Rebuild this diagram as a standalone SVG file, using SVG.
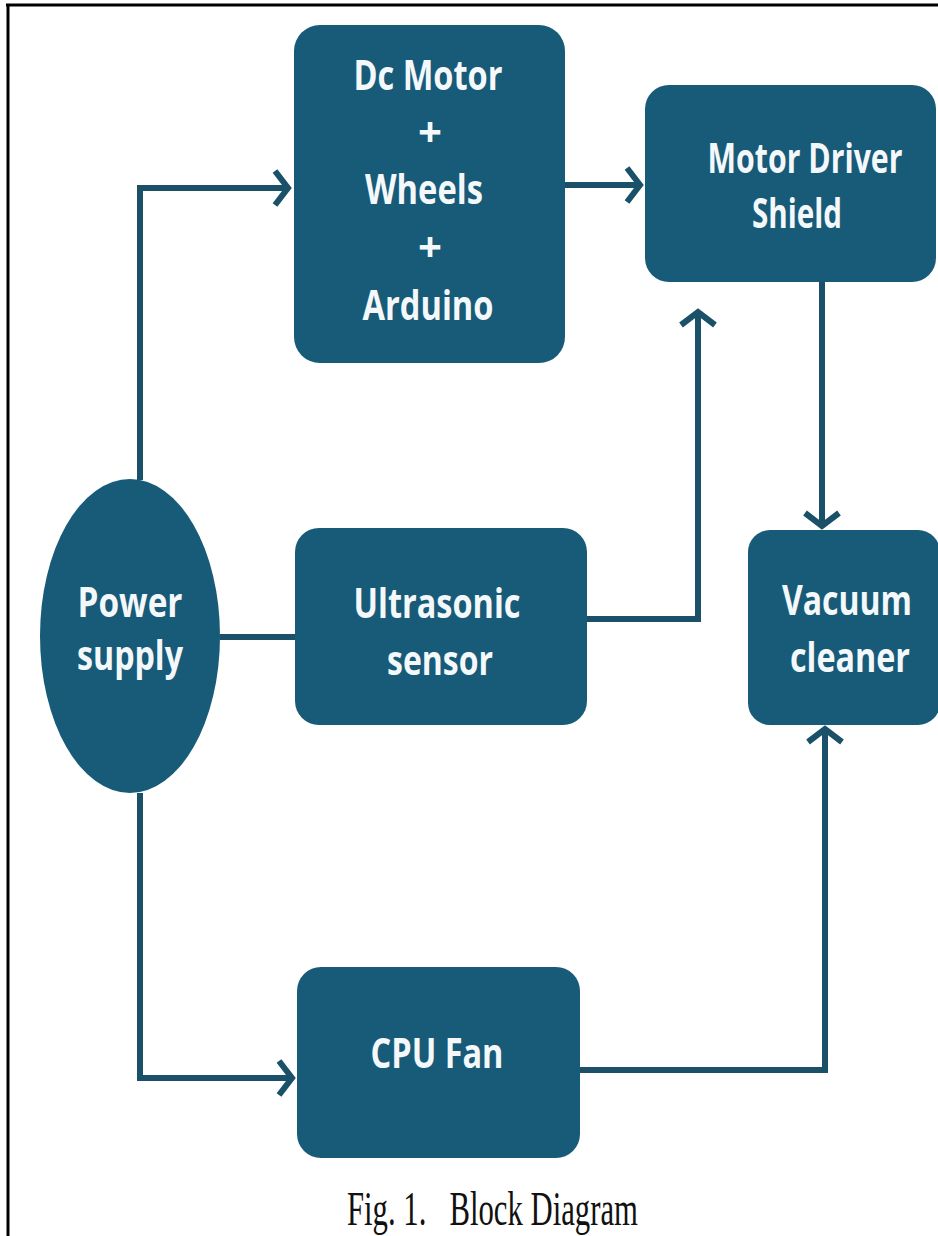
<svg xmlns="http://www.w3.org/2000/svg" width="938" height="1236" viewBox="0 0 938 1236">
<style>
.box{fill:#175b79;}
.lbl{font-family:"Open Sans","Noto Sans","Liberation Sans",sans-serif;font-weight:700;font-size:42px;fill:#f4f8fa;text-anchor:middle;}
.wire{fill:none;stroke:#1a5168;stroke-width:6;stroke-linejoin:miter;}
.cap{font-family:"Liberation Serif","Times New Roman",serif;font-size:48px;fill:#111;}
</style>
<defs>
<marker id="arr" markerUnits="userSpaceOnUse" markerWidth="40" markerHeight="40" viewBox="-20 -20 40 40" refX="0" refY="0" orient="auto">
<path d="M -13 -17 L 0 0 L -13 17" fill="none" stroke="#1a5168" stroke-width="6" stroke-linejoin="miter"/>
</marker>
</defs>
<rect width="938" height="1236" fill="#ffffff"/>
<g id="frame">
<line x1="6" y1="5" x2="938" y2="5" stroke="#000" stroke-width="3"/>
<line x1="8" y1="4" x2="8" y2="1236" stroke="#000" stroke-width="3"/>
</g>
<g id="connectors">
<polyline class="wire" points="140,480 140,188 288,188" marker-end="url(#arr)"/>
<line class="wire" x1="565" y1="185" x2="640" y2="185" marker-end="url(#arr)"/>
<line class="wire" x1="220" y1="637" x2="295" y2="637"/>
<polyline class="wire" points="587,619 698,619 698,312" marker-end="url(#arr)"/>
<line class="wire" x1="822" y1="282" x2="822" y2="526" marker-end="url(#arr)"/>
<polyline class="wire" points="580,1070 825,1070 825,729" marker-end="url(#arr)"/>
<polyline class="wire" points="140,793 140,1078 292,1078" marker-end="url(#arr)"/>
</g>
<g id="dc-motor">
<rect class="box" x="294" y="25" width="271" height="338" rx="26"/>
<text class="lbl" x="428" y="90" textLength="149" lengthAdjust="spacingAndGlyphs">Dc Motor</text>
<text class="lbl" x="430" y="147">+</text>
<text class="lbl" x="424" y="204" textLength="118" lengthAdjust="spacingAndGlyphs">Wheels</text>
<text class="lbl" x="430" y="262">+</text>
<text class="lbl" x="428" y="320" textLength="131" lengthAdjust="spacingAndGlyphs">Arduino</text>
</g>
<g id="motor-driver">
<rect class="box" x="645" y="85" width="291" height="197" rx="24"/>
<text class="lbl" x="805" y="173" textLength="195" lengthAdjust="spacingAndGlyphs">Motor Driver</text>
<text class="lbl" x="797" y="228" textLength="90" lengthAdjust="spacingAndGlyphs">Shield</text>
</g>
<g id="power-supply">
<ellipse class="box" cx="130" cy="636" rx="90" ry="157"/>
<text class="lbl" x="130" y="617" textLength="105" lengthAdjust="spacingAndGlyphs">Power</text>
<text class="lbl" x="130" y="670" textLength="106" lengthAdjust="spacingAndGlyphs">supply</text>
</g>
<g id="ultrasonic">
<rect class="box" x="295" y="528" width="292" height="197" rx="24"/>
<text class="lbl" x="437" y="618" textLength="167" lengthAdjust="spacingAndGlyphs">Ultrasonic</text>
<text class="lbl" x="440" y="675" textLength="106" lengthAdjust="spacingAndGlyphs">sensor</text>
</g>
<g id="vacuum">
<rect class="box" x="748" y="530" width="192" height="195" rx="22"/>
<text class="lbl" x="847" y="615" textLength="130" lengthAdjust="spacingAndGlyphs">Vacuum</text>
<text class="lbl" x="850" y="672" textLength="120" lengthAdjust="spacingAndGlyphs">cleaner</text>
</g>
<g id="cpu-fan">
<rect class="box" x="297" y="967" width="283" height="191" rx="24"/>
<text class="lbl" x="437" y="1068" textLength="133" lengthAdjust="spacingAndGlyphs">CPU Fan</text>
</g>
<g id="caption">
<text class="cap" x="347" y="1225" textLength="291" lengthAdjust="spacingAndGlyphs" xml:space="preserve">Fig. 1.   Block Diagram</text>
</g>
</svg>
